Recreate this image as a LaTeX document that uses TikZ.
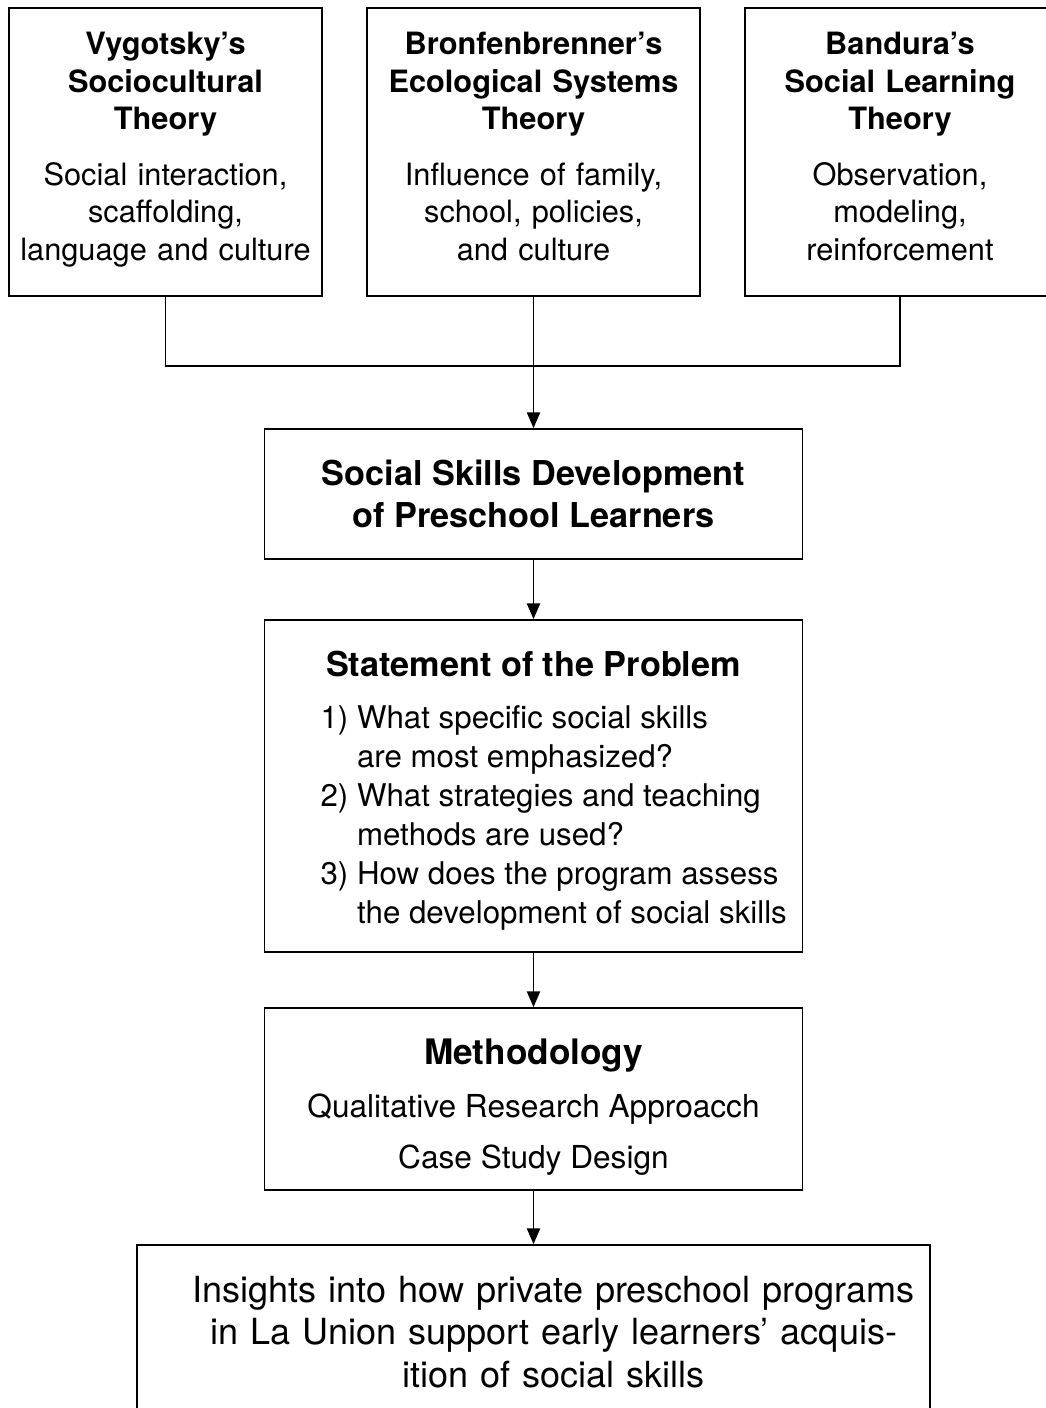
\documentclass[tikz,border=0pt]{standalone}
\usepackage{fontspec}
\setmainfont{TeX Gyre Heros}
\usetikzlibrary{arrows.meta, calc}
\tikzset{
    my-box/.style={
        draw, line width=1pt, inner sep=0pt, align=center
    },
    my-top-box/.style={
        my-box, text width=6.26cm, minimum height=5.76cm,
        font=\fontsize{17.5}{21.5}\selectfont
    },
    my-mid-box/.style={
        my-box, minimum width=10.76cm
    },
    my-text/.style={
        inner sep=0pt, align=center
    },
    my-arrow/.style={
        line width=1pt, -{Triangle[length=9pt, width=7.5pt]}
    },
}

\begin{document}
\begin{tikzpicture}[x=0.02cm, y=-0.02cm]

        % PAGE
        \useasboundingbox (0,0) rectangle (1045,1408);

        % THEORIES
        \node[my-top-box] (VYG) at (165.5,152)
            {\textbf{Vygotsky’s}\\ \textbf{Sociocultural}\\ \textbf{Theory}\\[10pt]
             Social interaction,\\ scaffolding,\\ language and culture\strut};
        \node[my-top-box, text width=6.66cm] (BRON) at ($(VYG) + (368,0)$)
            {\textbf{Bronfenbrenner’s}\\ \textbf{Ecological Systems}\\ \textbf{Theory}\\[10pt]
             Influence of family,\\ school, policies,\\ and culture\strut};
        \node[my-top-box, text width=6.2cm] (BAND) at ($(VYG) + (734.5,0)$)
            {\textbf{Bandura’s}\\ \textbf{Social Learning}\\ \textbf{Theory}\\[10pt]
             Observation,\\ modeling,\\ reinforcement\strut};

        % FLOW BOXES
        \node[my-mid-box, minimum height=2.6cm, font=\bfseries\fontsize{19.5}{23.8}\selectfont]
            (SKILLS) at ($(BRON) + (0,342)$)
            {Social Skills Development\\ of Preschool Learners};
        \node[my-mid-box, minimum height=6.64cm] (PROBLEM) at ($(SKILLS) + (0,292)$) {};
        \node[my-mid-box, minimum height=3.64cm] (METHOD)  at ($(PROBLEM) + (0,313)$) {};
        \node[my-box, text width=15.86cm, minimum height=3.48cm, font=\fontsize{20.5}{24.4}\selectfont]
            (INSIGHTS) at ($(METHOD) + (0,233)$)
            {\hspace*{23pt}Insights into how private preschool programs\\
             \hspace*{23pt}in La Union support early learners’ acquis-\\
             \hspace*{23pt}ition of social skills};

        % BOX TEXTS
        \node[my-text, font=\fontsize{17.8}{22.2}\selectfont] (PROBLEMTXT) at ($(PROBLEM) + (0,7)$)
            {{\bfseries\fontsize{19.5}{22.2}\selectfont Statement of the Problem}\\[13pt]
             \hspace*{23pt}\begin{tabular}{@{}l@{\ }l@{}}
                 1) & What specific social skills\\
                    & are most emphasized?\\
                 2) & What strategies and teaching\\
                    & methods are used?\\
                 3) & How does the program assess\\
                    & the development of social skills
             \end{tabular}};
        \node[my-text, font=\fontsize{18}{29}\selectfont] (METHODTXT) at ($(METHOD) + (0,8)$)
            {{\bfseries\fontsize{20}{29}\selectfont Methodology}\\[1pt]
             Qualitative Research Approacch\\ Case Study Design};

        % CONNECTORS
        \coordinate (JOIN) at ($(BRON.south) + (0,69)$);
        \draw[line width=1pt] (VYG.south) |- (JOIN) -| (BAND.south);
        \draw[my-arrow] (BRON.south)    -- (SKILLS.north);
        \draw[my-arrow] (SKILLS.south)  -- (PROBLEM.north);
        \draw[my-arrow] (PROBLEM.south) -- (METHOD.north);
        \draw[my-arrow] (METHOD.south)  -- (INSIGHTS.north);

\end{tikzpicture}
\end{document}
